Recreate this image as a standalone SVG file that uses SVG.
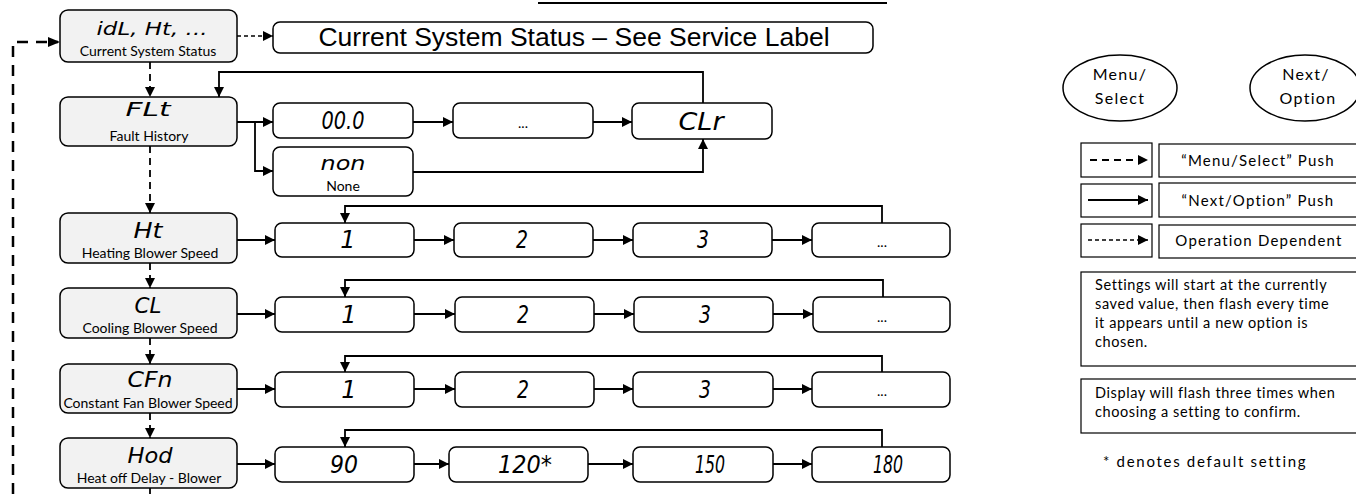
<svg xmlns="http://www.w3.org/2000/svg" width="1356" height="494" viewBox="0 0 1356 494">
<defs>
<marker id="ah" viewBox="0 0 10 10" refX="10" refY="5" markerWidth="10" markerHeight="10" markerUnits="userSpaceOnUse" orient="auto">
<path d="M0,0 L10,5 L0,10 z" fill="#000"/>
</marker>
<style>
.menu{fill:#f2f2f2;stroke:#000;stroke-width:1.5}
.val{fill:#fff;stroke:#000;stroke-width:1.5}
.seg{font-family:"DejaVu Sans",sans-serif;font-style:italic;font-weight:200;fill:#000;text-anchor:middle}
.sub{font-family:Lato,"Open Sans",sans-serif;font-size:14px;fill:#000;text-anchor:middle}
.dots{font-family:Lato,sans-serif;font-size:14px;fill:#000;text-anchor:middle}
.solid{fill:none;stroke:#000;stroke-width:1.8}
.msel{fill:none;stroke:#000;stroke-width:1.8;stroke-dasharray:7 5}
.loop{fill:none;stroke:#000;stroke-width:2.5;stroke-dasharray:11 8}
.opd{fill:none;stroke:#000;stroke-width:1.6;stroke-dasharray:4 3}
.leg{fill:#fff;stroke:#000;stroke-width:1.2}
.lt{font-family:Lato,"Open Sans",sans-serif;font-size:15px;letter-spacing:1.2px;fill:#000}
.ell{font-family:Lato,"Open Sans",sans-serif;font-size:16px;letter-spacing:1.3px;fill:#000;text-anchor:middle}
.note{font-family:Lato,"Open Sans",sans-serif;font-size:14.5px;letter-spacing:0.6px;fill:#000}
</style>
</defs>

<line x1="538" y1="3" x2="887" y2="3" stroke="#000" stroke-width="2"/>

<!-- left menu nodes -->
<g id="n-status">
<rect class="menu" x="60" y="10" width="177" height="52" rx="8"/>
<text class="seg" x="152" y="35" font-size="17" textLength="111" lengthAdjust="spacingAndGlyphs">idL, Ht, ...</text>
<text class="sub" x="148" y="56">Current System Status</text>
</g>
<g id="n-flt">
<rect class="menu" x="60" y="97" width="177" height="49" rx="8"/>
<text class="seg" x="148" y="116" font-size="19" textLength="45" lengthAdjust="spacingAndGlyphs">FLt</text>
<text class="sub" x="149" y="141">Fault History</text>
</g>
<g id="n-ht">
<rect class="menu" x="60" y="213" width="177" height="50" rx="8"/>
<text class="seg" x="148" y="238" font-size="21" textLength="29" lengthAdjust="spacingAndGlyphs">Ht</text>
<text class="sub" x="150" y="258">Heating Blower Speed</text>
</g>
<g id="n-cl">
<rect class="menu" x="60" y="288" width="177" height="50" rx="8"/>
<text class="seg" x="148" y="313" font-size="21" textLength="27" lengthAdjust="spacingAndGlyphs">CL</text>
<text class="sub" x="150" y="333">Cooling Blower Speed</text>
</g>
<g id="n-cfn">
<rect class="menu" x="60" y="364" width="177" height="49" rx="8"/>
<text class="seg" x="150" y="387" font-size="21" textLength="45" lengthAdjust="spacingAndGlyphs">CFn</text>
<text class="sub" x="148" y="408">Constant Fan Blower Speed</text>
</g>
<g id="n-hod">
<rect class="menu" x="60" y="438" width="177" height="50" rx="8"/>
<text class="seg" x="150" y="463" font-size="21" textLength="45" lengthAdjust="spacingAndGlyphs">Hod</text>
<text class="sub" x="149" y="483">Heat off Delay - Blower</text>
</g>

<!-- status label -->
<g id="n-label">
<rect class="val" x="273" y="22" width="600" height="31" rx="7"/>
<text x="574" y="46" font-family="Liberation Sans, Arial, sans-serif" font-size="26.5" text-anchor="middle">Current System Status – See Service Label</text>
</g>

<!-- fault row -->
<g id="f-000">
<rect class="val" x="273" y="103" width="140" height="35" rx="7"/>
<text class="seg" x="343" y="129" font-size="24" textLength="43" lengthAdjust="spacingAndGlyphs">00.0</text>
</g>
<g id="f-dots">
<rect class="val" x="453" y="103" width="140" height="35" rx="7"/>
<text class="dots" x="523" y="128">...</text>
</g>
<g id="f-clr">
<rect class="val" x="632" y="103" width="140" height="36" rx="7"/>
<text class="seg" x="701" y="130" font-size="24" textLength="45" lengthAdjust="spacingAndGlyphs">CLr</text>
</g>
<g id="f-non">
<rect class="val" x="273" y="147" width="140" height="49" rx="7"/>
<text class="seg" x="343" y="170" font-size="19" textLength="45" lengthAdjust="spacingAndGlyphs">non</text>
<text class="sub" x="343" y="191">None</text>
</g>

<!-- HT row -->
<g id="ht-1"><rect class="val" x="275" y="223" width="139" height="34" rx="7"/><text class="seg" x="348" y="248" font-size="24">1</text></g>
<g id="ht-2"><rect class="val" x="454" y="223" width="139" height="34" rx="7"/><text class="seg" x="522" y="248" font-size="24" textLength="12" lengthAdjust="spacingAndGlyphs">2</text></g>
<g id="ht-3"><rect class="val" x="633" y="223" width="139" height="34" rx="7"/><text class="seg" x="703" y="248" font-size="24" textLength="12" lengthAdjust="spacingAndGlyphs">3</text></g>
<g id="ht-4"><rect class="val" x="812" y="223" width="138" height="34" rx="7"/><text class="dots" x="882" y="247">...</text></g>

<!-- CL row -->
<g id="cl-1"><rect class="val" x="275" y="297" width="139" height="35" rx="7"/><text class="seg" x="349" y="323" font-size="24">1</text></g>
<g id="cl-2"><rect class="val" x="455" y="297" width="139" height="35" rx="7"/><text class="seg" x="523" y="323" font-size="24" textLength="12" lengthAdjust="spacingAndGlyphs">2</text></g>
<g id="cl-3"><rect class="val" x="634" y="297" width="139" height="35" rx="7"/><text class="seg" x="705" y="323" font-size="24" textLength="12" lengthAdjust="spacingAndGlyphs">3</text></g>
<g id="cl-4"><rect class="val" x="813" y="297" width="137" height="35" rx="7"/><text class="dots" x="882" y="322">...</text></g>

<!-- CFn row -->
<g id="cf-1"><rect class="val" x="275" y="372" width="139" height="35" rx="7"/><text class="seg" x="349" y="398" font-size="24">1</text></g>
<g id="cf-2"><rect class="val" x="455" y="372" width="139" height="35" rx="7"/><text class="seg" x="523" y="398" font-size="24" textLength="12" lengthAdjust="spacingAndGlyphs">2</text></g>
<g id="cf-3"><rect class="val" x="633" y="372" width="140" height="35" rx="7"/><text class="seg" x="705" y="398" font-size="24" textLength="12" lengthAdjust="spacingAndGlyphs">3</text></g>
<g id="cf-4"><rect class="val" x="812" y="372" width="138" height="35" rx="7"/><text class="dots" x="882" y="396">...</text></g>

<!-- Hod row -->
<g id="hd-1"><rect class="val" x="275" y="447" width="139" height="35" rx="7"/><text class="seg" x="344" y="473" font-size="24" textLength="28" lengthAdjust="spacingAndGlyphs">90</text></g>
<g id="hd-2"><rect class="val" x="449" y="447" width="139" height="35" rx="7"/><text class="seg" x="525" y="473" font-size="24" textLength="54" lengthAdjust="spacingAndGlyphs">120*</text></g>
<g id="hd-3"><rect class="val" x="633" y="447" width="140" height="35" rx="7"/><text class="seg" x="710" y="473" font-size="24" textLength="30" lengthAdjust="spacingAndGlyphs">150</text></g>
<g id="hd-4"><rect class="val" x="812" y="447" width="138" height="35" rx="7"/><text class="seg" x="888" y="473" font-size="24" textLength="30" lengthAdjust="spacingAndGlyphs">180</text></g>

<!-- connectors -->
<g id="connectors">
<path class="loop" d="M13,494 L13,42 L58,42"/>
<path d="M48,37 L60,42 L48,47 z"/>
<path class="opd" d="M237,36 L273,36" marker-end="url(#ah)"/>
<path class="msel" d="M150,62 L150,97" marker-end="url(#ah)"/>
<path class="msel" d="M150,146 L150,213" marker-end="url(#ah)"/>
<path class="msel" d="M150,263 L150,288" marker-end="url(#ah)"/>
<path class="msel" d="M150,338 L150,364" marker-end="url(#ah)"/>
<path class="msel" d="M150,413 L150,438" marker-end="url(#ah)"/>
<path class="msel" d="M150,488 L150,494"/>

<path class="solid" d="M237,122 L273,122" marker-end="url(#ah)"/>
<path class="solid" d="M255,122 L255,171 L273,171" marker-end="url(#ah)"/>
<path class="solid" d="M413,122 L453,122" marker-end="url(#ah)"/>
<path class="solid" d="M593,122 L632,122" marker-end="url(#ah)"/>
<path class="solid" d="M413,172 L703,172 L703,139" marker-end="url(#ah)"/>
<path class="solid" d="M703,103 L703,72 L219,72 L219,97" marker-end="url(#ah)"/>

<path class="solid" d="M237,240 L275,240" marker-end="url(#ah)"/>
<path class="solid" d="M414,240 L454,240" marker-end="url(#ah)"/>
<path class="solid" d="M593,240 L633,240" marker-end="url(#ah)"/>
<path class="solid" d="M772,240 L812,240" marker-end="url(#ah)"/>
<path class="solid" d="M882,223 L882,206 L345,206 L345,223" marker-end="url(#ah)"/>

<path class="solid" d="M237,314 L275,314" marker-end="url(#ah)"/>
<path class="solid" d="M414,314 L455,314" marker-end="url(#ah)"/>
<path class="solid" d="M594,314 L634,314" marker-end="url(#ah)"/>
<path class="solid" d="M773,314 L813,314" marker-end="url(#ah)"/>
<path class="solid" d="M883,297 L883,280 L345,280 L345,297" marker-end="url(#ah)"/>

<path class="solid" d="M237,389 L275,389" marker-end="url(#ah)"/>
<path class="solid" d="M414,389 L455,389" marker-end="url(#ah)"/>
<path class="solid" d="M594,389 L633,389" marker-end="url(#ah)"/>
<path class="solid" d="M773,389 L812,389" marker-end="url(#ah)"/>
<path class="solid" d="M882,372 L882,356 L345,356 L345,372" marker-end="url(#ah)"/>

<path class="solid" d="M237,464 L275,464" marker-end="url(#ah)"/>
<path class="solid" d="M414,464 L449,464" marker-end="url(#ah)"/>
<path class="solid" d="M588,464 L633,464" marker-end="url(#ah)"/>
<path class="solid" d="M773,464 L812,464" marker-end="url(#ah)"/>
<path class="solid" d="M882,447 L882,430 L345,430 L345,447" marker-end="url(#ah)"/>
</g>

<!-- legend -->
<g id="legend-menu">
<ellipse cx="1120" cy="88" rx="57" ry="33" fill="#fff" stroke="#000" stroke-width="1.5"/>
<text class="ell" x="1120" y="80">Menu/</text>
<text class="ell" x="1120" y="104">Select</text>
</g>
<g id="legend-next">
<ellipse cx="1305" cy="88" rx="55" ry="33" fill="#fff" stroke="#000" stroke-width="1.5"/>
<text class="ell" x="1306" y="80">Next/</text>
<text class="ell" x="1308" y="104">Option</text>
</g>
<g id="legend-lines">
<rect class="leg" x="1081" y="143" width="71" height="34"/>
<path class="msel" d="M1090,160 L1148,160" marker-end="url(#ah)"/>
<rect class="leg" x="1159" y="144" width="210" height="33"/>
<text class="lt" x="1258" y="166" text-anchor="middle">“Menu/Select” Push</text>
<rect class="leg" x="1081" y="184" width="71" height="33"/>
<path class="solid" d="M1088,200 L1148,200" marker-end="url(#ah)"/>
<rect class="leg" x="1159" y="183" width="210" height="34"/>
<text class="lt" x="1258" y="206" text-anchor="middle">“Next/Option” Push</text>
<rect class="leg" x="1081" y="224" width="71" height="33"/>
<path class="opd" d="M1088,240 L1148,240" marker-end="url(#ah)"/>
<rect class="leg" x="1159" y="225" width="210" height="33"/>
<text class="lt" x="1259" y="246" text-anchor="middle">Operation Dependent</text>
</g>
<g id="legend-notes">
<rect class="leg" x="1081" y="272" width="290" height="94"/>
<text class="note" x="1095" y="290">Settings will start at the currently</text>
<text class="note" x="1095" y="309">saved value, then flash every time</text>
<text class="note" x="1095" y="328">it appears until a new option is</text>
<text class="note" x="1095" y="347">chosen.</text>
<rect class="leg" x="1081" y="379" width="290" height="54"/>
<text class="note" x="1095" y="398">Display will flash three times when</text>
<text class="note" x="1095" y="417">choosing a setting to confirm.</text>
<text class="lt" x="1103" y="467" style="letter-spacing:1.7px">* denotes default setting</text>
</g>
</svg>
